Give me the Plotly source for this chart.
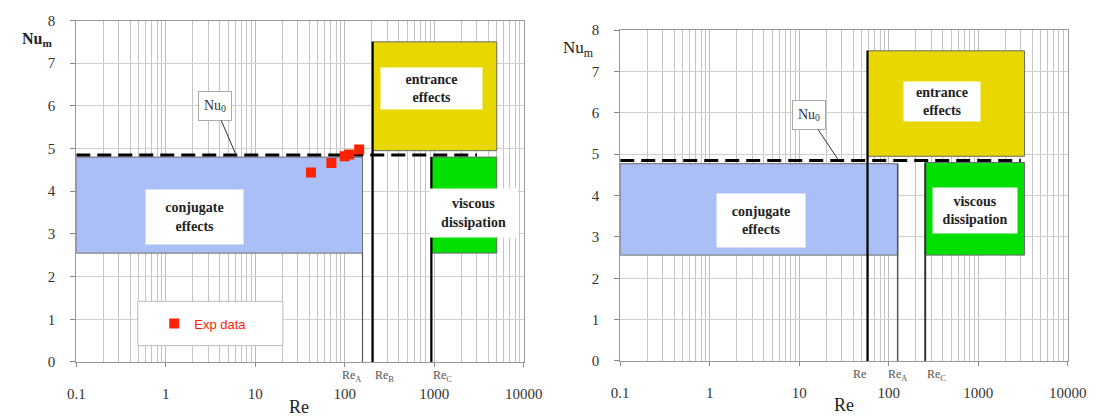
import math
import plotly.graph_objects as go

# ---------------- data ----------------
W, H = 1112, 419
decades = [0.1, 1, 10, 100, 1000, 10000]
decade_labels = ["0.1", "1", "10", "100", "1000", "10000"]
minor_vals = [m * d for d in [0.1, 1, 10, 100, 1000] for m in range(2, 10)]
y_ticks = [0, 1, 2, 3, 4, 5, 6, 7, 8]

# experimental data (left chart)
re_exp = [42, 71, 100, 112, 145]
nu_exp = [4.44, 4.66, 4.82, 4.86, 4.98]

nu0 = 4.85
nu0_x = [0.1, 3000]

# left chart regions  [x0, x1, y0, y1]
L_conj = [0.1, 158, 2.55, 4.8]
L_entr = [205, 5000, 4.95, 7.5]
L_visc = [930, 5000, 2.55, 4.8]
L_reA, L_reB, L_reC = 158, 205, 930

# right chart regions
R_conj = [0.1, 126, 2.56, 4.77]
R_entr = [58, 3300, 4.95, 7.5]
R_visc = [256, 3300, 2.56, 4.8]
R_re, R_reA, R_reC = 58, 126, 256

BLUE = "#abbff7"
YELLOW = "#e8d800"
GREEN = "#00e000"
RED = "#ff2200"
SERIF = "Liberation Serif"

fig = go.Figure()
lg = math.log10


def rect(box, color, xa, ya):
    x0, x1, y0, y1 = box
    fig.add_trace(go.Scatter(
        x=[x0, x1, x1, x0, x0], y=[y0, y0, y1, y1, y0],
        mode="lines", fill="toself", fillcolor=color,
        line=dict(color="#6a6a6a", width=1),
        xaxis=xa, yaxis=ya, showlegend=False, hoverinfo="skip"))


def vline(xv, top, xa, ya, color="black", width=2.2):
    fig.add_trace(go.Scatter(
        x=[xv, xv], y=[0, top], mode="lines",
        line=dict(color=color, width=width),
        xaxis=xa, yaxis=ya, showlegend=False, hoverinfo="skip"))


def dashed(xa, ya):
    fig.add_trace(go.Scatter(
        x=nu0_x, y=[nu0, nu0], mode="lines",
        line=dict(color="black", width=3, dash="14px,7px"),
        xaxis=xa, yaxis=ya, showlegend=False, hoverinfo="skip"))


# left chart
rect(L_conj, BLUE, "x", "y")
rect(L_entr, YELLOW, "x", "y")
rect(L_visc, GREEN, "x", "y")
dashed("x", "y")
vline(L_reA, L_conj[2], "x", "y", color="#555555", width=1.2)
vline(L_reB, L_entr[3], "x", "y")
vline(L_reC, L_visc[3], "x", "y")
fig.add_trace(go.Scatter(
    x=re_exp, y=nu_exp, mode="markers", name="Exp data",
    marker=dict(symbol="square", size=10, color=RED),
    xaxis="x", yaxis="y", showlegend=True))

# right chart
rect(R_conj, BLUE, "x2", "y2")
rect(R_entr, YELLOW, "x2", "y2")
rect(R_visc, GREEN, "x2", "y2")
dashed("x2", "y2")
vline(R_re, R_entr[3], "x2", "y2")
vline(R_reA, R_conj[3], "x2", "y2", color="#555555", width=1.5)
vline(R_reC, R_visc[3], "x2", "y2", color="#333333", width=2)


def xaxis(domain, anchor):
    return dict(
        type="log", range=[-1, 4], domain=domain, anchor=anchor,
        tickvals=decades, ticktext=decade_labels,
        ticks="outside", ticklen=4, tickcolor="#888",
        ticklabelstandoff=14,
        tickfont=dict(family=SERIF, size=15, color="#333"),
        showgrid=True, gridcolor="#bdbdbd", gridwidth=1,
        minor=dict(tickvals=minor_vals, showgrid=True,
                   gridcolor="#c4c4c4", gridwidth=1, ticks=""),
        showline=True, linecolor="#999", linewidth=1, mirror=True,
        zeroline=False)


def yaxis(domain, anchor):
    return dict(
        range=[0, 8], domain=domain, anchor=anchor,
        tickvals=y_ticks, ticks="outside", ticklen=5, tickcolor="#888",
        ticklabelstandoff=12,
        tickfont=dict(family=SERIF, size=15, color="#333"),
        showgrid=True, gridcolor="#d0d0d0", gridwidth=1,
        showline=True, linecolor="#999", linewidth=1, mirror=True,
        zeroline=False)


annotations = []


def label(text, x, y, xref, yref, w, h, size=14):
    annotations.append(dict(
        text="<b>" + text + "</b>", x=lg(x), y=y, xref=xref, yref=yref,
        showarrow=False, bgcolor="white", width=w, height=h,
        xanchor="center", yanchor="middle",
        font=dict(family=SERIF, size=size, color="#222"), align="center"))


# left labels
label("conjugate<br>effects", 2.08, 3.4, "x", "y", 95, 52)
label("entrance<br>effects", 923, 6.4, "x", "y", 99, 39)
label("viscous<br>dissipation", 2716, 3.49, "x", "y", 85, 46)
# right labels
label("conjugate<br>effects", 3.7, 3.4, "x2", "y2", 86, 51)
label("entrance<br>effects", 394, 6.28, "x2", "y2", 74, 37)
label("viscous<br>dissipation", 923, 3.63, "x2", "y2", 82, 43)

# Nu0 callouts
for xr, yr, xp, ax, ay in [("x", "y", 6.1, -21, -49), ("x2", "y2", 27.6, -30, -45)]:
    annotations.append(dict(
        text="Nu<sub>0</sub>", x=lg(xp), y=nu0, xref=xr, yref=yr,
        showarrow=True, arrowhead=0, arrowwidth=1, arrowcolor="#333",
        ax=ax, ay=ay, bgcolor="white", bordercolor="#aaa", borderwidth=1,
        width=30, height=26,
        font=dict(family=SERIF, size=14, color="#333")))


# Re sub-labels
def relabel(text, x, xref, yref, anchor):
    annotations.append(dict(
        text=text, x=lg(x), y=0, xref=xref, yref=yref, showarrow=False,
        xanchor=anchor, yanchor="top", yshift=-4,
        font=dict(family=SERIF, size=12, color="#555")))


relabel("Re<sub>A</sub>", L_reA, "x", "y", "right")
relabel("Re<sub>B</sub>", L_reB, "x", "y", "left")
relabel("Re<sub>C</sub>", L_reC, "x", "y", "left")
relabel("Re", R_re, "x2", "y2", "right")
relabel("Re<sub>A</sub>", R_reA, "x2", "y2", "center")
relabel("Re<sub>C</sub>", R_reC, "x2", "y2", "left")


# axis titles
def title(text, px, py, size):
    annotations.append(dict(
        text=text, x=px / W, y=1 - py / H, xref="paper", yref="paper",
        xanchor="center", yanchor="middle", showarrow=False,
        font=dict(family=SERIF, size=size, color="#222")))


title("<b>Nu</b><sub><b>m</b></sub>", 29, 33, 16)
title("Nu<sub>m</sub>", 584, 43, 17)
title("Re", 298, 415, 18)
title("Re", 857, 413, 18)

fig.update_layout(
    width=W, height=H, autosize=False,
    margin=dict(l=0, r=0, t=0, b=0),
    paper_bgcolor="white", plot_bgcolor="white",
    xaxis=xaxis([69 / W, 528 / W], "y"),
    yaxis=yaxis([1 - 368 / H, 1 - 13 / H], "x"),
    xaxis2=xaxis([627 / W, 1086 / W], "y2"),
    yaxis2=yaxis([1 - 367 / H, 1 - 23 / H], "x2"),
    annotations=annotations,
    shapes=[dict(type="rect", xref="paper", yref="paper",
                 x0=132 / W, x1=281 / W, y0=1 - 351 / H, y1=1 - 305 / H,
                 fillcolor="white", line=dict(color="#bbb", width=1), layer="above")],
    legend=dict(x=149 / W, y=1 - 328 / H, xanchor="left", yanchor="middle",
                bgcolor="rgba(0,0,0,0)", borderwidth=0,
                font=dict(family="Liberation Sans", size=13, color=RED)),
    showlegend=True,
)

fig.write_html("out.html")
